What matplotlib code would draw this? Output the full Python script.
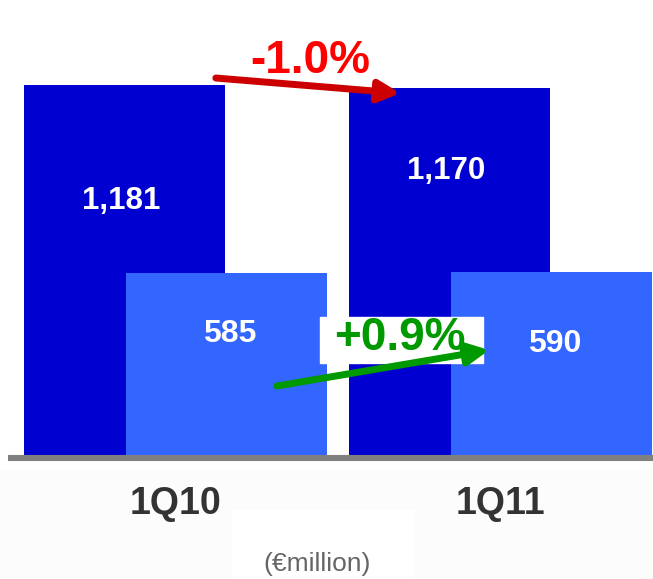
import matplotlib
matplotlib.use("Agg")
import matplotlib.pyplot as plt
from matplotlib.patches import Rectangle

# data
periods = ["1Q10", "1Q11"]
total_vals = [1181, 1170]
sub_vals = [585, 590]
total_labels = ["1,181", "1,170"]
sub_labels = ["585", "590"]
total_change = "-1.0%"
sub_change = "+0.9%"
unit_label = "(€million)"

dark_blue = "#0000D0"
light_blue = "#3366FF"

plt.rcParams['font.family'] = ['Liberation Sans', 'DejaVu Sans']

fig = plt.figure(figsize=(6.53, 5.79), dpi=100)
ax = fig.add_axes([0, 0, 1, 1])
ax.set_xlim(-0.54, 1.469)
ax.set_ylim(-383, 1450)
ax.axis('off')

# light background under the chart
ax.add_patch(Rectangle((-0.54, -383), 2.1, 345, color="#FCFCFC", zorder=0))
ax.add_patch(Rectangle((0.174, -383), 0.557, 218, color="white", zorder=0))

width = 0.62
offset = 0.157
x = [0, 1]

ax.bar([i - offset for i in x], total_vals, width, color=dark_blue, zorder=2)
ax.bar([i + offset for i in x], sub_vals, width, color=light_blue, zorder=3)

# baseline
ax.plot([-0.515, 1.469], [0, 0], color="#808080", lw=4.4, solid_capstyle='butt', zorder=4)

# value labels
total_y = [815, 908]
sub_y = [392, 360]
for i in x:
    ax.text(i - offset - 0.01, total_y[i], total_labels[i], color="white",
            fontsize=22.5, fontweight='bold', ha='center', va='center', zorder=5)
    ax.text(i + offset + 0.01, sub_y[i], sub_labels[i], color="white",
            fontsize=23, fontweight='bold', ha='center', va='center', zorder=5)
    ax.text(i, -146, periods[i], color="#333333", fontsize=27,
            fontweight='bold', ha='center', va='center')

# red change arrow for totals
ax.annotate("", xy=(0.692, 1155), xytext=(0.124, 1203),
            arrowprops=dict(arrowstyle='-|>', color="#CC0000", lw=5,
                            mutation_scale=32, shrinkA=0, shrinkB=0), zorder=6)
ax.text(0.414, 1258, total_change, color="#FF0000", fontsize=33,
        fontweight='bold', ha='center', va='center', zorder=6)

# green change arrow for sub-series
ax.add_patch(Rectangle((0.4446, 300), 0.5016, 146, color="white", zorder=5))
ax.text(0.691, 380, sub_change, color="#009900", fontsize=33,
        fontweight='bold', ha='center', va='center', zorder=6)
ax.annotate("", xy=(0.965, 342), xytext=(0.312, 228),
            arrowprops=dict(arrowstyle='-|>', color="#009900", lw=5,
                            mutation_scale=32, shrinkA=0, shrinkB=0), zorder=7)

ax.text(0.435, -336, unit_label, color="#666666", fontsize=19,
        ha='center', va='center')

fig.savefig("out.png", dpi=100)
